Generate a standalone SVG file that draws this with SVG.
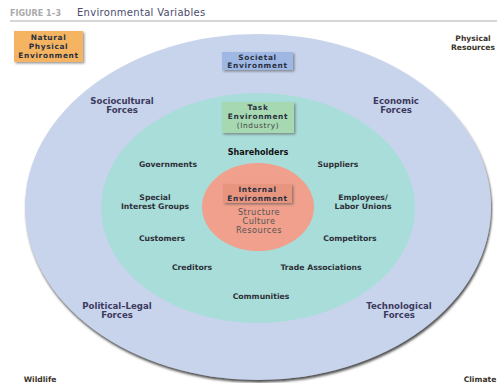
<svg xmlns="http://www.w3.org/2000/svg" width="497" height="383" viewBox="0 0 497 383">
<defs>
<filter id="bshadow" x="-20%" y="-20%" width="150%" height="160%"><feDropShadow dx="1.5" dy="1.5" stdDeviation="1" flood-color="#555" flood-opacity="0.6"/></filter>
<filter id="eshadow" x="-5%" y="-5%" width="115%" height="115%"><feDropShadow dx="1" dy="2.5" stdDeviation="1.2" flood-color="#333" flood-opacity="0.85"/></filter>
</defs>
<style>
text{font-family:"DejaVu Sans","Liberation Sans",sans-serif;text-anchor:middle}
.outer{font-size:8.6px;font-weight:bold;fill:#3d3a5e}
.inner{font-size:7.7px;font-weight:bold;fill:#2d3038}
.box{font-size:7.4px;font-weight:bold;fill:#2a3040;letter-spacing:0.65px}
.core{font-size:8.2px;fill:#555;letter-spacing:0.45px}
.nat{font-size:7.6px;font-weight:bold;fill:#3a3428}
</style>
<rect width="497" height="383" fill="#fff"/>
<g id="title">
<text x="10" y="16" style="text-anchor:start;font-size:8px;font-weight:bold;fill:#aaa">FIGURE 1–3</text>
<text x="77" y="16" style="text-anchor:start;font-size:10px;fill:#4b4b6b;letter-spacing:0.3px">Environmental Variables</text>
<line x1="10" y1="21" x2="497" y2="21" stroke="#c8c8c8" stroke-width="1.5"/>
</g>
<g id="societal-environment">
<ellipse cx="258" cy="207" rx="233" ry="173" fill="#c8d4ec" filter="url(#eshadow)"/>
<rect x="222" y="52" width="71" height="18" fill="#9fb8e3" filter="url(#bshadow)"/>
<text class="box" x="257.5" y="59.5">Societal</text>
<text class="box" x="257.5" y="68">Environment</text>
</g>
<g id="task-environment">
<ellipse cx="258" cy="208" rx="157" ry="115" fill="#a9ddd9"/>
<rect x="222" y="102" width="72" height="31" fill="#a6d8b2" filter="url(#bshadow)"/>
<text class="box" x="258" y="110">Task</text>
<text class="box" x="258" y="119">Environment</text>
<text class="box" x="258" y="128" style="font-weight:normal;fill:#444">(Industry)</text>
</g>
<g id="internal-environment">
<ellipse cx="258" cy="207" rx="56" ry="44" fill="#f0a08c"/>
<rect x="223" y="184" width="69" height="19" fill="#e8957f" filter="url(#bshadow)"/>
<text class="box" x="257.5" y="191.5">Internal</text>
<text class="box" x="257.5" y="200.5">Environment</text>
<text class="core" x="259" y="215">Structure</text>
<text class="core" x="259" y="224">Culture</text>
<text class="core" x="259" y="233">Resources</text>
</g>
<g id="natural-physical-environment">
<rect x="14" y="31" width="69" height="31" fill="#f5b462" filter="url(#bshadow)"/>
<text class="box" x="48.5" y="40">Natural</text>
<text class="box" x="48.5" y="49">Physical</text>
<text class="box" x="48.5" y="58">Environment</text>
</g>
<g id="physical-resources"><text class="nat" x="473" y="41">Physical</text><text class="nat" x="473" y="50">Resources</text></g>
<g id="wildlife"><text class="nat" x="40" y="382">Wildlife</text></g>
<g id="climate"><text class="nat" x="480" y="382">Climate</text></g>
<g id="sociocultural"><text class="outer" x="122" y="104">Sociocultural</text><text class="outer" x="122" y="113">Forces</text></g>
<g id="economic"><text class="outer" x="396" y="104">Economic</text><text class="outer" x="396" y="113">Forces</text></g>
<g id="political-legal"><text class="outer" x="117" y="309">Political–Legal</text><text class="outer" x="117" y="318">Forces</text></g>
<g id="technological"><text class="outer" x="399" y="309">Technological</text><text class="outer" x="399" y="318">Forces</text></g>
<g id="shareholders"><text class="inner" x="258" y="155" style="fill:#111;font-size:8.1px">Shareholders</text></g>
<g id="governments"><text class="inner" x="168" y="167">Governments</text></g>
<g id="suppliers"><text class="inner" x="338" y="167">Suppliers</text></g>
<g id="special-interest-groups"><text class="inner" x="155" y="200">Special</text><text class="inner" x="155" y="209">Interest Groups</text></g>
<g id="employees"><text class="inner" x="363" y="200">Employees/</text><text class="inner" x="363" y="209">Labor Unions</text></g>
<g id="customers"><text class="inner" x="162" y="241">Customers</text></g>
<g id="competitors"><text class="inner" x="350" y="241">Competitors</text></g>
<g id="creditors"><text class="inner" x="192" y="270">Creditors</text></g>
<g id="trade-associations"><text class="inner" x="321" y="270">Trade Associations</text></g>
<g id="communities"><text class="inner" x="261" y="299">Communities</text></g>
</svg>
